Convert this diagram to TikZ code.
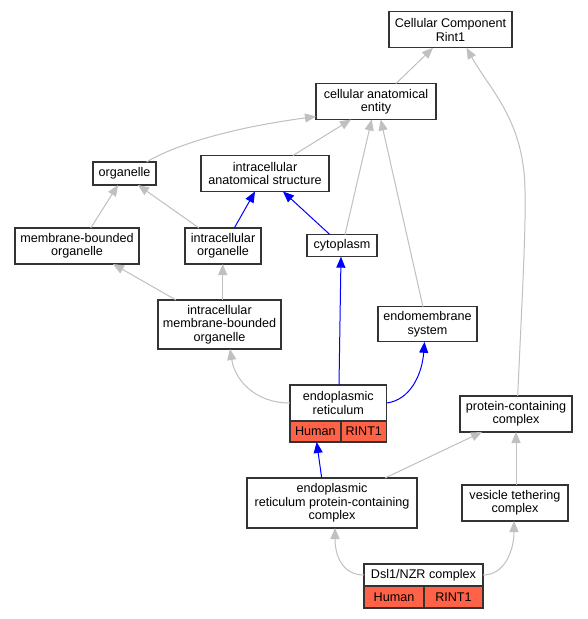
\documentclass[tikz,border=0pt]{standalone}
\usepackage{fontspec}
\setmainfont{Liberation Sans}
\usetikzlibrary{arrows.meta,calc}
\definecolor{edgegray}{HTML}{C0C0C0}
\definecolor{tomato}{HTML}{FF6347}
\definecolor{boxline}{HTML}{333333}
\begin{document}
\begin{tikzpicture}[x=1pt,y=-1pt,
  box/.style={draw=boxline,line width=1.1pt,fill=white,inner sep=0pt,outer sep=0pt,align=center,font=\fontsize{12.6}{13.4}\selectfont},
  cell/.style={box,fill=tomato,anchor=north west},
  isa/.style={draw=edgegray,line width=1pt,-{Triangle[length=11pt,width=9pt]}},
  partof/.style={draw=blue,line width=1pt,-{Triangle[length=11pt,width=9pt]}}]
\fill[white] (0,0) rectangle (588,619);
\useasboundingbox (0,0) rectangle (588,619);

% nodes
\node[box,minimum width=123,minimum height=36] (cc) at (450.5,29.8) {Cellular Component\\Rint1};
\node[box,minimum width=120,minimum height=36] (cae) at (376,101.5) {cellular anatomical\\entity};
\node[box,minimum width=63,minimum height=23] (org) at (124.5,173.5) {organelle};
\node[box,minimum width=128,minimum height=36] (ias) at (265,173.5) {intracellular\\anatomical structure};
\node[box,minimum width=124,minimum height=36] (mbo) at (77,246) {membrane-bounded\\organelle};
\node[box,minimum width=76,minimum height=36] (io) at (223,246) {intracellular\\organelle};
\node[box,minimum width=70,minimum height=22] (cyt) at (342,245.7) {cytoplasm};
\node[box,minimum width=123,minimum height=49] (imbo) at (219.5,324.5) {intracellular\\membrane-bounded\\organelle};
\node[box,minimum width=99,minimum height=35] (ems) at (427.5,324.3) {endomembrane\\system};
\node[box,minimum width=96.7,minimum height=36] (er) at (338.3,403) {endoplasmic\\reticulum};
\node[cell,minimum width=51,minimum height=21] (erh) at (er.south west) {Human};
\node[cell,minimum width=45.7,minimum height=21] (err) at (erh.north east) {RINT1};
\node[box,minimum width=112,minimum height=36] (pcc) at (516,414) {protein-containing\\complex};
\node[box,minimum width=170,minimum height=50] (erpcc) at (332,503) {endoplasmic\\reticulum protein-containing\\complex};
\node[box,minimum width=106,minimum height=36] (vtc) at (515,503) {vesicle tethering\\complex};
\node[box,minimum width=119,minimum height=22] (dsl) at (423.5,575) {Dsl1/NZR complex};
\node[cell,minimum width=60,minimum height=22] (dslh) at (dsl.south west) {Human};
\node[cell,minimum width=59,minimum height=22] (dslr) at (dslh.north east) {RINT1};

% is_a edges (gray)
\draw[isa] ($(cae.north)+(20,0)$) -- ($(cc.south)+(-17.5,0)$);
\draw[isa] ($(pcc.north)+(1.7,0)$) .. controls (522,300) and (526,230) .. (525,190)
  .. controls (524,120) and (490,90) .. ($(cc.south)+(16,0)$);
\draw[isa] ($(org.north)+(22,0)$) .. controls (175,145) and (230,128) .. ($(cae.west)+(0,15)$);
\draw[isa] ($(ias.north)+(28,0)$) -- ($(cae.south)+(-25,0)$);
\draw[isa] ($(cyt.north)+(3,0)$) -- ($(cae.south)+(-4.3,0)$);
\draw[isa] ($(ems.north)+(-4.5,0)$) -- ($(cae.south)+(4.7,0)$);
\draw[isa] ($(mbo.north)+(13.7,0)$) -- ($(org.south)+(-6.5,0)$);
\draw[isa] ($(io.north)+(-24,0)$) -- ($(org.south)+(13.5,0)$);
\draw[isa] ($(imbo.north)+(-43.5,0)$) -- ($(mbo.south)+(36,0)$);
\draw[isa] ($(imbo.north)+(3.2,0)$) -- ($(io.south)+(-0.3,0)$);
\draw[isa] (er.west) .. controls (255,403) and (235,380) .. ($(imbo.south)+(10.5,0)$);
\draw[isa] ($(erpcc.north)+(53,0)$) -- ($(pcc.south)+(-34,0)$);
\draw[isa] ($(vtc.north)+(1,0)$) -- (pcc.south);
\draw[isa] (dsl.west) .. controls (342,575) and (335,555) .. ($(erpcc.south)+(3,0)$);
\draw[isa] (dsl.east) .. controls (505,575) and (514,550) .. ($(vtc.south)+(-1,0)$);

% part_of edges (blue)
\draw[partof] ($(io.north)+(11.3,0)$) -- ($(ias.south)+(-10,0)$);
\draw[partof] ($(cyt.north)+(-12,0)$) -- ($(ias.south)+(18,0)$);
\draw[partof] ($(er.north)+(0.7,0)$) -- ($(cyt.south)+(-1,0)$);
\draw[partof] (er.east) .. controls (410,400) and (422,375) .. ($(ems.south)+(-3,0)$);
\draw[partof] ($(erpcc.north)+(-10.3,0)$) -- ($(erh.south)+(1.2,0)$);
\end{tikzpicture}
\end{document}
